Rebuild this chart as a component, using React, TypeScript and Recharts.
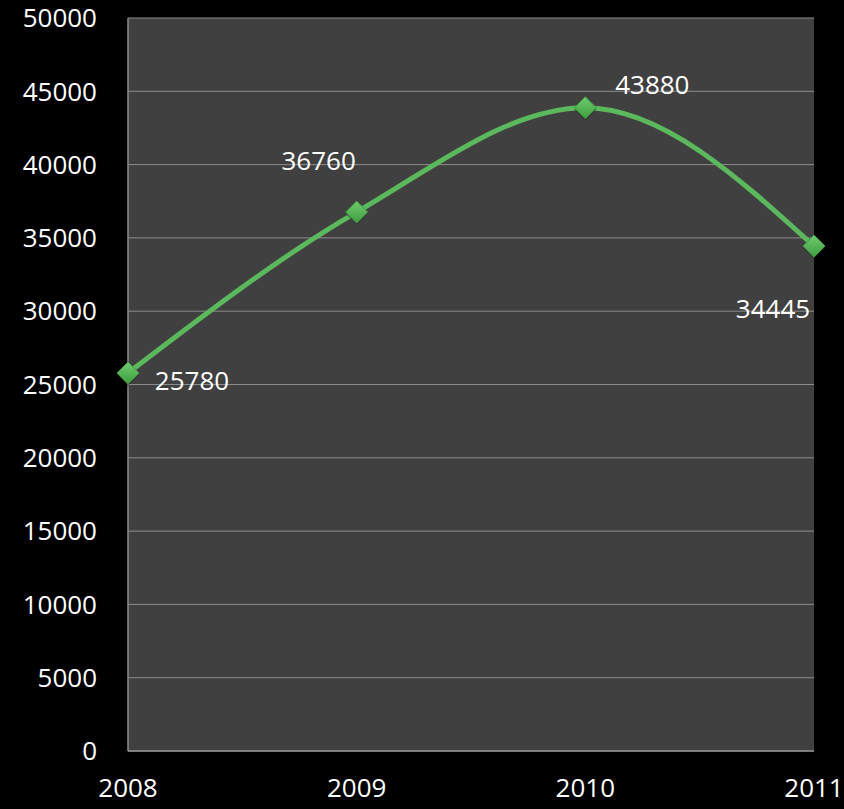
import React from "react";
import { LineChart, Line, XAxis, YAxis, CartesianGrid, LabelList } from "recharts";

const years = ["2008", "2009", "2010", "2011"];
const values = [25780, 36760, 43880, 34445];
const yTicks = [0, 5000, 10000, 15000, 20000, 25000, 30000, 35000, 40000, 45000, 50000];

const data = years.map((y, i) => ({ year: y, value: values[i] }));

const FONT = "'Open Sans', sans-serif";
const labelShift = [
  { dx: 64, dy: 7 },
  { dx: -38, dy: -52 },
  { dx: 67, dy: -24 },
  { dx: -41, dy: 62 },
];

const Diamond = (props: any) => {
  const { cx, cy } = props;
  if (cx == null || cy == null) return null;
  const r = 11;
  return (
    <g>
      <polygon
        points={`${cx},${cy - r + 2} ${cx + r},${cy + 2} ${cx},${cy + r + 2} ${cx - r},${cy + 2}`}
        fill="#2a2a2a"
        opacity={0.5}
      />
      <polygon
        points={`${cx},${cy - r} ${cx + r},${cy} ${cx},${cy + r} ${cx - r},${cy}`}
        fill="url(#dg)"
        stroke="#3f9a3f"
        strokeWidth={1}
      />
    </g>
  );
};

const ValueLabel = (props: any) => {
  const { x, y, value, index } = props;
  const s = labelShift[index] || { dx: 0, dy: 0 };
  return (
    <text
      x={x + s.dx}
      y={y + s.dy}
      textAnchor="middle"
      dominantBaseline="central"
      fill="#ffffff"
      fontFamily={FONT}
      fontSize={26}
    >
      {value}
    </text>
  );
};

export default function App() {
  return (
    <div style={{ position: "absolute", left: 0, top: 0, width: 844, height: 809, background: "#000" }}>
      <LineChart width={844} height={809} data={data} margin={{ top: 18, right: 30, left: 0, bottom: 0 }}>
        <defs>
          <linearGradient id="dg" x1="0" y1="0" x2="0" y2="1">
            <stop offset="0%" stopColor="#6fcb6f" />
            <stop offset="100%" stopColor="#3e9e3e" />
          </linearGradient>
        </defs>
        <CartesianGrid vertical={false} stroke="#8c8c8c" strokeWidth={1} fill="#404040" />
        <XAxis
          dataKey="year"
          scale="point"
          padding={{ left: 0, right: 0 }}
          height={58}
          tickSize={0}
          tickMargin={28}
          axisLine={{ stroke: "#8c8c8c", strokeWidth: 1.5 }}
          tickLine={false}
          tick={{ fill: "#ffffff", fontFamily: FONT, fontSize: 26 }}
        />
        <YAxis
          domain={[0, 50000]}
          ticks={yTicks}
          interval={0}
          width={128}
          tickSize={0}
          tickMargin={31}
          axisLine={{ stroke: "#8c8c8c", strokeWidth: 1.5 }}
          tickLine={false}
          tick={{ fill: "#ffffff", fontFamily: FONT, fontSize: 26 }}
        />
        <Line
          type="monotone"
          dataKey="value"
          stroke="#5cb85c"
          strokeWidth={5}
          dot={<Diamond />}
          activeDot={false}
          isAnimationActive={false}
        >
          <LabelList dataKey="value" content={<ValueLabel />} />
        </Line>
      </LineChart>
    </div>
  );
}
